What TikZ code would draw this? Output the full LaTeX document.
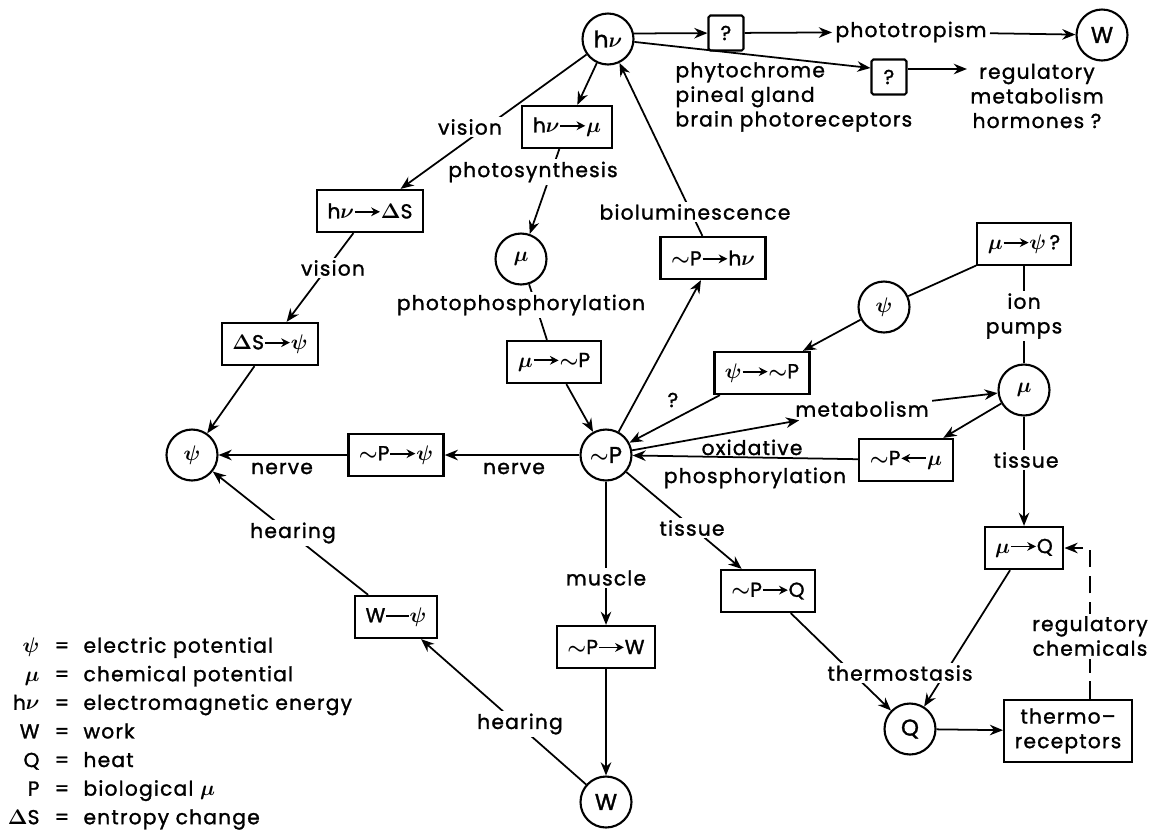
\documentclass[tikz,border=0pt]{standalone}
\usepackage{fontspec}
\setmainfont{Poppins}[LetterSpace=6, FakeBold=1.4]
\usetikzlibrary{arrows.meta,calc}
\newcommand{\rarr}{\tikz[baseline=-0.6ex]\draw[-{Stealth[length=5pt,width=5pt]},line width=1pt] (0,0) -- (0.5cm,0);}
\newcommand{\larr}{\tikz[baseline=-0.6ex]\draw[{Stealth[length=5pt,width=5pt]}-,line width=1pt] (0,0) -- (0.5cm,0);}
\newcommand{\barr}{\tikz[baseline=-0.6ex]\draw[line width=1pt] (0,0) -- (0.45cm,0);}
\newcommand{\tP}{$\sim$P}
\tikzset{
	state/.style={draw, circle, line width=1.2pt, minimum size=1.02cm, inner sep=0pt, font=\fontsize{13}{14}\selectfont\boldmath},
	conv/.style={draw, rectangle, line width=1.3pt, minimum height=0.84cm, inner xsep=6pt},
	qbox/.style={draw, rectangle, rounded corners=1pt, line width=1.2pt, minimum size=0.7cm, inner sep=0pt},
	lbl/.style={inner sep=1.5pt},
	onln/.style={lbl, fill=white},
	flow/.style={-{Stealth[length=7.5pt,width=6pt]}, line width=1pt},
}

\begin{document}
\begin{tikzpicture}[x=0.02cm, y=-0.02cm, font=\fontsize{11.5}{14}\selectfont\boldmath, line width=1pt]
	\useasboundingbox (0,0) rectangle (1156,833);
	
	% energy forms
	\node[state] (hv) at (608,39) {h$\nu$};
	\node[state] (wtop) at (1102,35) {W};
	\node[state] (muc) at (521,259) {$\mu$};
	\node[state] (psir) at (884,307) {$\psi$};
	\node[state] (mur) at (1024,390) {$\mu$};
	\node[state] (psil) at (192,455) {$\psi$};
	\node[state] (P) at (606,455) {\tP};
	\node[state] (Q) at (910,729) {Q};
	\node[state] (wbot) at (606,802) {W};
	
	% conversions
	\node[qbox] (q1) at (726,33) {?};
	\node[qbox] (q2) at (889,77) {?};
	\node[conv] (hvmu) at (567,127) {h$\nu$\rarr$\mu$};
	\node[conv] (hvds) at (370,211) {h$\nu$\rarr$\Delta$S};
	\node[conv] (mups) at (1024,244) {$\mu$\rarr$\psi$\,?};
	\node[conv] (phv) at (713,258) {\tP\rarr h$\nu$};
	\node[conv] (dspsi) at (270,344) {$\Delta$S\rarr$\psi$};
	\node[conv] (mup) at (554,362) {$\mu$\rarr\tP};
	\node[conv] (psip) at (762,373) {$\psi$\rarr\tP};
	\node[conv] (ppsi) at (396,455) {\tP\rarr$\psi$};
	\node[conv] (pmu) at (906,460) {\tP\larr$\mu$};
	\node[conv] (mq) at (1024,548) {$\mu$\rarr Q};
	\node[conv] (pq) at (768,591) {\tP\rarr Q};
	\node[conv] (wpsi) at (396,617) {W\barr$\psi$};
	\node[conv] (pw) at (606,647) {\tP\rarr W};
	\node[conv, align=center, minimum height=1.24cm] (threc) at (1068,731) {thermo--\\receptors};
	
	% texts that arrows end on
	\node[lbl] (photot) at (911,32) {phototropism};
	\node[lbl, align=center] (regm) at (1037,96) {regulatory\\metabolism\\hormones ?};
	\node[lbl] (metab) at (862,409) {metabolism};
	
	% connectors
	\draw[flow] (hv.12) -- (q1);
	\draw[flow] (q1) -- (photot);
	\draw[flow] (photot) -- (wtop);
	\draw[flow] (hv) -- ($(q2.west)+(0,-9)$);
	\draw[flow] ($(q2.east)+(0,-8)$) -- ($(regm.west |- q2.east)+(0,-8)$);
	\draw[flow] (hv) -- (hvmu);
	\draw[flow] (hv) -- (hvds);
	\draw[flow] (hvmu) -- (muc);
	\draw (muc) -- (mup);
	\draw[flow] (mup) -- (P);
	\draw[flow] (hvds) -- (dspsi);
	\draw[flow] (dspsi) -- (psil);
	\draw[flow] (P) -- (phv);
	\draw[flow] (phv) -- (hv);
	\draw (mups) -- (psir);
	\draw[flow] (psir) -- (psip);
	\draw[flow] (psip) -- (P);
	\draw (mups) -- (mur);
	\draw[flow] (P) -- (metab);
	\draw[flow] (metab) -- (mur);
	\draw[flow] (mur) -- (pmu);
	\draw[flow] (pmu) -- (P);
	\draw[flow] (mur) -- (mq);
	\draw[flow] (P) -- (ppsi);
	\draw[flow] (ppsi) -- (psil);
	\draw[flow] (P) -- (pw);
	\draw[flow] (pw) -- (wbot);
	\draw[flow] (wbot) -- (wpsi);
	\draw[flow] (wpsi) -- (psil);
	\draw[flow] (P) -- (pq);
	\draw[flow] (pq) -- (Q);
	\draw[flow] (mq) -- (Q);
	\draw[flow] (Q) -- (threc);
	\draw[flow, dash pattern=on 10pt off 5pt] ($(threc.north)+(22,0)$) |- (mq);
	
	% labels sitting on the lines
	\node[onln] (vis1) at (470,127) {vision};
	\node[onln] (photos) at (533,172) {photosynthesis};
	\node[onln] (biolum) at (695,212) {bioluminescence};
	\node[onln] (vis2) at (333,268) {vision};
	\node[onln] (photoph) at (521,305) {photophosphorylation};
	\node[onln, align=center] (ion) at (1024,316) {ion\\pumps};
	\node[onln] (tiss1) at (1026,460) {tissue};
	\node[onln] (hear1) at (293,533) {hearing};
	\node[onln] (tiss2) at (692,528) {tissue};
	\node[onln] (musc) at (606,578) {muscle};
	\node[onln, align=center] (regc) at (1090,636) {regulatory\\chemicals};
	\node[onln] (thermo) at (900,673) {thermostasis};
	\node[onln] (hear2) at (520,724) {hearing};
	
	% labels beside the lines
	\node[lbl, align=left, anchor=west] (phyto) at (672,97) {phytochrome\\pineal gland\\brain photoreceptors};
	\node[lbl, anchor=base] (nerve1) at (282,474) {nerve};
	\node[lbl, anchor=base] (nerve2) at (514,474) {nerve};
	\node[lbl] (qm) at (673,400) {?};
	\node[lbl, anchor=base] (oxid) at (752,455) {oxidative};
	\node[lbl, anchor=base] (phosp) at (755,483) {phosphorylation};
	
	% legend
	\foreach \sym/\txt [count=\i] in {$\psi$/electric potential, $\mu$/chemical potential, h$\nu$/electromagnetic energy, W/work, Q/heat, P/biological $\mu$, $\Delta$S/entropy change}{
		\node[lbl, anchor=base east] (ls\i) at (43,624+28.6*\i) {\sym};
		\node[lbl, anchor=base] (le\i) at (62,624+28.6*\i) {=};
		\node[lbl, anchor=base west] (lt\i) at (80,624+28.6*\i) {\txt};
	}
\end{tikzpicture}
\end{document}
